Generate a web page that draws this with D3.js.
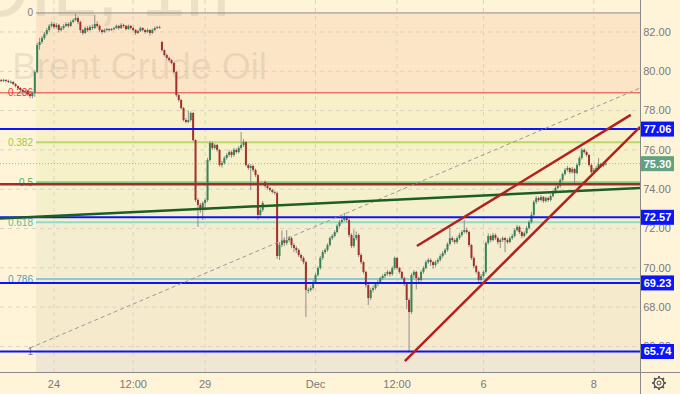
<!DOCTYPE html>
<html>
<head>
<meta charset="utf-8">
<script src="https://d3js.org/d3.v7.min.js"></script>
<style>
html, body { margin: 0; padding: 0; background: #fff4d8; }
svg { display: block; }
text { font-family: "Liberation Sans", Arial, sans-serif; }
</style>
</head>
<body>
<script>
// Brent Crude Oil, 1h candles (open = previous close, except after gaps)
var firstOpen = 79.55;
var gapBars = [67, 110];
var gapOpens = [81.49, 74.37];

var closes = [
  79.51, 79.56, 79.51, 79.46, 79.46, 79.35, 79.25, 79.15, 79.05, 78.95,
  79.00, 78.84, 78.74, 78.90, 79.96, 81.34, 81.49, 81.69, 81.90, 82.10,
  82.31, 82.41, 82.25, 82.36, 82.10, 82.20, 82.31, 82.41, 82.31, 82.51,
  82.61, 82.71, 82.51, 82.10, 81.95, 82.20, 82.10, 82.25, 82.20, 82.41,
  82.31, 82.10, 82.00, 82.10, 82.15, 82.10, 82.15, 82.20, 82.31, 82.20,
  82.36, 82.31, 82.15, 82.31, 82.20, 82.10, 81.95, 82.05, 82.20, 82.10,
  82.00, 82.10, 81.95, 82.10, 82.20, 82.25, 82.25, 81.08, 80.83, 80.68,
  80.57, 80.42, 79.96, 78.79, 78.54, 78.13, 77.52, 77.42, 77.52, 77.88,
  76.50, 73.45, 73.20, 73.04, 73.30, 73.45, 75.49, 76.35, 76.10, 76.25,
  76.00, 75.23, 75.33, 75.59, 75.74, 75.89, 75.74, 76.00, 75.89, 76.10,
  76.25, 76.40, 75.23, 75.08, 75.18, 74.98, 74.72, 72.69, 72.94, 73.30,
  74.16, 74.06, 73.96, 73.86, 73.81, 70.60, 71.16, 71.41, 71.26, 71.41,
  71.51, 71.16, 71.01, 70.91, 70.65, 70.50, 70.29, 68.87, 68.87, 68.97,
  69.28, 69.63, 69.99, 70.50, 70.80, 70.91, 71.16, 71.51, 71.62, 71.82,
  72.13, 72.33, 72.43, 72.53, 72.43, 71.67, 71.11, 71.51, 71.67, 70.65,
  70.29, 69.79, 69.13, 68.46, 68.87, 68.97, 69.17, 69.28, 69.48, 69.58,
  69.68, 69.79, 69.68, 69.99, 70.50, 69.99, 69.79, 69.48, 69.17, 68.36,
  67.75, 69.63, 69.79, 69.48, 69.38, 69.79, 69.99, 70.29, 70.40, 70.29,
  70.14, 70.29, 70.40, 70.60, 70.75, 70.91, 71.21, 71.51, 71.41, 71.31,
  71.51, 71.67, 71.82, 71.92, 71.82, 71.16, 70.50, 70.09, 69.79, 69.38,
  69.58, 69.79, 71.26, 71.62, 71.41, 71.67, 71.51, 71.31, 71.41, 71.51,
  71.41, 71.31, 71.51, 71.62, 71.92, 72.08, 71.82, 71.62, 71.77, 72.03,
  72.33, 72.69, 73.35, 73.55, 73.45, 73.60, 73.40, 73.55, 73.45, 73.65,
  73.86, 74.06, 74.16, 74.47, 74.77, 74.98, 75.08, 74.87, 75.03, 74.82,
  75.23, 75.59, 76.00, 75.89, 75.74, 75.23, 74.87, 74.98, 75.08, 75.28,
  75.18, 75.28, 75.30
];

var highs = [
  79.62, 79.62, 79.60, 79.58, 79.54, 79.50, 79.40, 79.28, 79.20, 79.10,
  79.08, 79.05, 78.90, 78.98, 80.05, 81.45, 81.70, 81.80, 82.00, 82.20,
  82.40, 82.52, 82.50, 82.45, 82.42, 82.30, 82.40, 82.50, 82.48, 82.60,
  82.70, 82.92, 82.80, 82.58, 82.15, 82.28, 82.30, 82.35, 82.38, 82.87,
  82.55, 82.38, 82.15, 82.18, 82.22, 82.20, 82.20, 82.26, 82.38, 82.36,
  82.45, 82.42, 82.36, 82.38, 82.36, 82.28, 82.15, 82.12, 82.28, 82.25,
  82.15, 82.18, 82.15, 82.18, 82.28, 82.32, 82.32, 81.55, 81.12, 80.90,
  80.75, 80.62, 80.48, 80.02, 78.85, 78.60, 78.18, 77.62, 78.00, 77.95,
  77.92, 76.55, 73.55, 73.30, 73.38, 73.55, 75.60, 76.45, 76.42, 76.32,
  76.30, 76.05, 75.45, 75.68, 75.85, 76.00, 75.98, 76.10, 76.08, 76.20,
  76.91, 76.55, 76.45, 75.30, 75.28, 75.25, 75.05, 74.78, 73.05, 73.40,
  74.45, 74.25, 74.12, 74.02, 73.92, 73.88, 71.30, 71.90, 71.55, 71.92,
  71.62, 71.58, 71.25, 71.10, 70.98, 70.72, 70.58, 70.35, 69.00, 69.10,
  69.38, 69.72, 70.08, 70.60, 70.90, 71.00, 71.25, 71.60, 71.72, 71.92,
  72.22, 72.42, 72.55, 72.79, 72.65, 72.50, 71.75, 71.95, 71.85, 71.75,
  70.75, 70.35, 69.85, 69.20, 68.98, 69.10, 69.25, 69.38, 69.55, 69.68,
  69.78, 69.88, 69.85, 70.08, 70.58, 70.55, 70.05, 69.85, 69.55, 69.22,
  68.45, 69.72, 69.88, 69.85, 69.55, 69.88, 70.08, 70.38, 70.50, 70.48,
  70.35, 70.38, 70.50, 70.70, 70.85, 71.00, 71.30, 72.03, 71.60, 71.50,
  71.60, 71.78, 71.92, 72.43, 72.05, 71.88, 71.22, 70.58, 70.15, 69.85,
  69.68, 69.88, 71.35, 71.75, 71.70, 71.78, 71.75, 71.58, 71.50, 71.60,
  71.58, 71.50, 71.60, 71.72, 72.00, 72.18, 72.15, 71.88, 71.85, 72.12,
  72.42, 72.85, 73.45, 73.65, 73.62, 73.70, 73.65, 73.62, 73.62, 73.75,
  73.95, 74.15, 74.25, 74.55, 74.85, 75.08, 75.18, 75.12, 75.12, 75.08,
  75.32, 75.68, 76.10, 76.08, 75.95, 75.80, 75.30, 75.08, 75.18, 75.59,
  75.35, 75.35, 75.38
];

var lows = [
  79.45, 79.46, 79.44, 79.40, 79.38, 79.30, 79.18, 79.08, 78.98, 78.85,
  78.88, 78.75, 78.64, 78.62, 78.70, 79.90, 81.10, 81.40, 81.60, 81.82,
  82.02, 82.22, 82.15, 82.18, 81.98, 82.02, 82.12, 82.25, 82.22, 82.25,
  82.45, 82.55, 82.40, 81.95, 81.85, 81.90, 82.00, 82.05, 82.10, 82.15,
  82.22, 82.00, 81.90, 81.95, 82.05, 82.02, 82.05, 82.08, 82.15, 82.12,
  82.15, 82.22, 82.08, 82.10, 82.12, 82.02, 81.85, 81.90, 82.00, 82.02,
  81.92, 81.95, 81.82, 81.90, 82.05, 82.15, 82.18, 81.00, 80.75, 80.60,
  80.48, 80.35, 79.90, 78.70, 78.45, 78.05, 77.45, 77.35, 77.35, 77.45,
  76.42, 73.35, 72.08, 72.80, 72.43, 73.00, 73.35, 75.40, 76.00, 76.02,
  75.92, 75.15, 75.10, 75.25, 75.50, 75.65, 75.60, 75.65, 75.80, 75.82,
  76.02, 76.15, 75.15, 74.98, 73.96, 74.88, 74.62, 72.45, 72.55, 72.85,
  74.08, 73.98, 73.88, 73.78, 73.72, 70.45, 70.40, 71.05, 71.10, 71.15,
  71.30, 71.00, 70.80, 70.75, 70.55, 70.35, 70.18, 67.50, 68.70, 68.78,
  68.88, 69.20, 69.55, 69.90, 70.40, 70.70, 70.82, 71.08, 71.42, 71.55,
  71.75, 72.05, 72.25, 72.35, 72.30, 71.55, 71.00, 71.02, 71.40, 70.55,
  70.18, 69.70, 69.00, 68.11, 68.35, 68.75, 68.88, 69.05, 69.20, 69.38,
  69.48, 69.60, 69.55, 69.60, 69.90, 69.90, 69.70, 69.40, 69.08, 67.90,
  65.72, 67.65, 69.50, 68.90, 69.25, 69.30, 69.70, 69.92, 70.20, 70.10,
  69.95, 70.05, 70.20, 70.32, 70.50, 70.65, 70.82, 71.12, 71.30, 71.20,
  71.22, 71.42, 71.58, 71.75, 71.72, 71.05, 70.40, 69.98, 69.70, 69.28,
  69.30, 69.50, 69.70, 71.18, 71.30, 71.35, 71.42, 71.20, 71.00, 71.32,
  70.80, 71.22, 71.25, 71.42, 71.55, 71.85, 71.72, 71.50, 71.55, 71.70,
  71.95, 72.25, 72.60, 73.25, 73.35, 73.38, 73.30, 73.32, 73.35, 73.38,
  73.58, 73.78, 73.98, 74.08, 74.40, 74.70, 74.90, 74.78, 74.80, 74.31,
  74.75, 75.15, 75.50, 75.80, 75.65, 75.15, 74.78, 74.80, 74.90, 75.00,
  75.10, 75.12, 75.22
];

// axis ticks
var priceTicks = [82, 80, 78, 76, 74, 72, 70, 68, 66];
var timeTickBars = [22, 55, 85, 131, 165, 201, 247];
var timeTickLabels = ["24", "12:00", "29", "Dec", "12:00", "6", "8"];

// fibonacci retracement
var fibHigh = 82.97, fibLow = 65.74, fibStartBar = 14.5;
var fibLevels = [0, 0.236, 0.382, 0.5, 0.618, 0.786, 1];
var fibLabels = ["0", "0.236", "0.382", "0.5", "0.618", "0.786", "1"];

// drawings
var blueLevels = [77.06, 72.57, 69.23, 65.74];
var redLevel = 74.25;
var lastPrice = 75.30;
var greenTrend = [[-0.5, 72.51], [266.3, 74.06]];
var dashedTrend = [[12, 65.92], [266.3, 79.15]];
var channelUpper = [[173.25, 71.11], [262.4, 77.78]];
var channelLower = [[168.25, 65.25], [266.3, 77.17]];

var W = 680, H = 394, plotR = 640, plotB = 372;

var candles = closes.map(function(c, i){
  var g = gapBars.indexOf(i);
  var o = i === 0 ? firstOpen : (g >= 0 ? gapOpens[g] : closes[i - 1]);
  return {i: i, o: o, h: highs[i], l: lows[i], c: c};
});

var x = d3.scaleLinear().domain([0, 266.25]).range([1.2, 640]);
var y = d3.scaleLinear().domain([66, 82]).range([346.4, 32]);

var svg = d3.select("body").append("svg")
    .attr("width", W)
    .attr("height", H);

svg.append("rect").attr("width", W).attr("height", H).attr("fill", "#fff4d8");

svg.append("clipPath").attr("id", "plot")
  .append("rect").attr("width", plotR).attr("height", plotB);

var plot = svg.append("g").attr("clip-path", "url(#plot)");

// fib bands
var bandFills = ["#fce4c6", "#f8f0c9", "#f6f1c9", "#f4f0cb", "#f4edcf", "#f6eacd"];
var fibPrice = function(l){ return fibHigh - l * (fibHigh - fibLow); };
var fx = x(fibStartBar);
fibLevels.slice(0, -1).forEach(function(l, k){
  var y0 = y(fibPrice(l)), y1 = y(fibPrice(fibLevels[k + 1]));
  plot.append("rect").attr("x", fx).attr("y", y0)
      .attr("width", plotR - fx).attr("height", y1 - y0)
      .attr("fill", bandFills[k]);
});
plot.append("rect").attr("x", fx).attr("y", y(fibLow))
    .attr("width", plotR - fx).attr("height", plotB - y(fibLow))
    .attr("fill", "#efe7d4");

// grid
var gridCol = "#d9d3c2";
plot.selectAll(".hg").data(priceTicks).enter().append("line")
    .attr("x1", 0).attr("x2", plotR)
    .attr("y1", function(d){ return y(d); }).attr("y2", function(d){ return y(d); })
    .attr("stroke", gridCol).attr("stroke-dasharray", "4,4");
plot.selectAll(".vg").data(timeTickBars).enter().append("line")
    .attr("x1", function(d){ return x(d); }).attr("x2", function(d){ return x(d); })
    .attr("y1", 0).attr("y2", plotB)
    .attr("stroke", gridCol).attr("stroke-dasharray", "4,4");

// watermark
plot.append("text").attr("x", 230).attr("y", 16).attr("text-anchor", "end")
    .attr("font-size", 80).attr("fill", "#8a8070").attr("fill-opacity", 0.16)
    .text("UKOIL, 1h");
plot.append("text").attr("x", 12).attr("y", 79)
    .attr("font-size", 37).attr("fill", "#8a8070").attr("fill-opacity", 0.16)
    .text("Brent Crude Oil");

// fib lines and labels
var fibLine = ["#8a8a8a", "#e53935", "#bcd66c", "#86c97a", "#8fdcc2", "#8ccbd6", "#8a8a8a"];
var fibText = ["#787b86", "#e53935", "#9cc74e", "#4caf50", "#4fc3a1", "#4aa3c0", "#787b86"];
fibLevels.forEach(function(l, k){
  var yy = y(fibPrice(l));
  plot.append("line").attr("x1", k === 1 ? 0 : fx).attr("x2", plotR)
      .attr("y1", yy).attr("y2", yy)
      .attr("stroke", fibLine[k]).attr("stroke-width", (k === 0 || k === 1 || k === 6) ? 1 : 2);
  plot.append("text").attr("x", fx - 3).attr("y", yy).attr("dy", "0.35em")
      .attr("text-anchor", "end").attr("font-size", 10).attr("fill", fibText[k])
      .text(fibLabels[k]);
});

// last price dotted line
plot.append("line").attr("x1", 0).attr("x2", plotR)
    .attr("y1", y(lastPrice)).attr("y2", y(lastPrice))
    .attr("stroke", "#8cbfa2").attr("stroke-dasharray", "1,2");

// candles
var cw = 2;
var cg = plot.append("g");
cg.selectAll(".wick").data(candles).enter().append("line")
    .attr("x1", function(d){ return x(d.i); }).attr("x2", function(d){ return x(d.i); })
    .attr("y1", function(d){ return y(d.h); }).attr("y2", function(d){ return y(d.l); })
    .attr("stroke", "#8e8e8e").attr("stroke-width", 1);
cg.selectAll(".body").data(candles).enter().append("rect")
    .attr("x", function(d){ return x(d.i) - cw / 2; })
    .attr("width", cw)
    .attr("y", function(d){ return y(Math.max(d.o, d.c)); })
    .attr("height", function(d){ return Math.max(1, Math.abs(y(d.o) - y(d.c))); })
    .attr("fill", function(d){ return d.c >= d.o ? "#368556" : "#a3312b"; });

// horizontal drawings
plot.append("line").attr("x1", 0).attr("x2", plotR)
    .attr("y1", y(redLevel)).attr("y2", y(redLevel))
    .attr("stroke", "#a52a2a").attr("stroke-width", 2.5);
plot.selectAll(".blue").data(blueLevels).enter().append("line")
    .attr("x1", 0).attr("x2", plotR)
    .attr("y1", function(d){ return y(d); }).attr("y2", function(d){ return y(d); })
    .attr("stroke", "#0a14ff").attr("stroke-width", 2);

// trend lines
function seg(p, col, w, dash){
  plot.append("line")
      .attr("x1", x(p[0][0])).attr("y1", y(p[0][1]))
      .attr("x2", x(p[1][0])).attr("y2", y(p[1][1]))
      .attr("stroke", col).attr("stroke-width", w)
      .attr("stroke-dasharray", dash || null);
}
seg(dashedTrend, "#9a9a9a", 1, "4,3");
seg(greenTrend, "#1e5e22", 2.5);
seg(channelUpper, "#b3201e", 2.5);
seg(channelLower, "#b3201e", 2.5);

// axes frame
svg.append("line").attr("x1", plotR + 0.5).attr("x2", plotR + 0.5).attr("y1", 0).attr("y2", H)
    .attr("stroke", "#8a8a8a");
svg.append("line").attr("x1", 0).attr("x2", W).attr("y1", plotB + 0.5).attr("y2", plotB + 0.5)
    .attr("stroke", "#8a8a8a");

// price axis
svg.selectAll(".pt").data(priceTicks).enter().append("text")
    .attr("x", 657).attr("y", function(d){ return y(d); }).attr("dy", "0.35em")
    .attr("text-anchor", "middle").attr("font-size", 11).attr("fill", "#7a7a7a")
    .text(function(d){ return d.toFixed(2); });

function priceBox(v, fill){
  var yy = y(v);
  svg.append("rect").attr("x", 641).attr("y", yy - 7.5).attr("width", 33).attr("height", 15)
      .attr("fill", fill);
  svg.append("text").attr("x", 657.5).attr("y", yy).attr("dy", "0.36em")
      .attr("text-anchor", "middle").attr("font-size", 11).attr("font-weight", "bold")
      .attr("fill", "#ffffff").text(v.toFixed(2));
}
blueLevels.forEach(function(v){ priceBox(v, "#0a14ff"); });
priceBox(lastPrice, "#62a283");

// time axis
svg.selectAll(".tt").data(timeTickBars).enter().append("text")
    .attr("x", function(d){ return x(d); }).attr("y", 388)
    .attr("text-anchor", "middle").attr("font-size", 11).attr("fill", "#7a7a7a")
    .text(function(d, i){ return timeTickLabels[i]; });

// settings gear
var gear = svg.append("g").attr("transform", "translate(659,383)");
for (var t = 0; t < 8; t++) {
  var a = t * Math.PI / 4;
  gear.append("line").attr("x1", Math.cos(a) * 4).attr("y1", Math.sin(a) * 4)
      .attr("x2", Math.cos(a) * 7).attr("y2", Math.sin(a) * 7)
      .attr("stroke", "#444").attr("stroke-width", 1.6);
}
gear.append("circle").attr("r", 5).attr("fill", "#fff4d8").attr("stroke", "#444").attr("stroke-width", 1.2);
gear.append("circle").attr("r", 2).attr("fill", "none").attr("stroke", "#444").attr("stroke-width", 1);
</script>
</body>
</html>
